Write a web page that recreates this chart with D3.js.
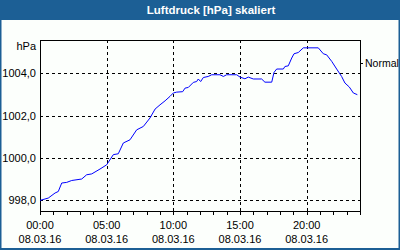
<!DOCTYPE html>
<html>
<head>
<meta charset="utf-8">
<script src="https://cdn.jsdelivr.net/npm/d3@7"></script>
<style>
  html, body { margin: 0; padding: 0; background: #fcfffc; }
  svg { display: block; }
  text { font-family: "Liberation Sans", Arial, sans-serif; }
</style>
</head>
<body>
<svg id="chart" width="400" height="250"></svg>
<script>
// Luftdruck über den Tag, Stunden seit 00:00
const hours = [0, 0.62, 1.13, 1.37, 1.63, 2.0, 2.38, 3.13, 3.5, 3.88, 4.5, 5.0, 5.5, 5.87, 6.25, 6.75,
  7.25, 7.75, 8.25, 8.63, 9.0, 9.38, 9.75, 10.0, 10.25, 10.7, 10.88, 11.12, 11.5, 11.75, 11.87, 12.05,
  12.25, 12.62, 12.88, 13.5, 13.75, 14.0, 14.75, 15.0, 15.37, 15.62, 16.0, 16.62, 16.87, 17.38, 17.55,
  17.75, 18.25, 18.37, 18.62, 18.88, 19.05, 19.37, 19.75, 20.87, 21.25, 21.5, 21.88, 22.25, 22.62,
  22.87, 23.2, 23.5, 23.8];
const hpa = [998.0, 998.11, 998.35, 998.42, 998.82, 998.85, 998.94, 999.01, 999.21, 999.25, 999.48,
  999.68, 1000.16, 1000.2, 1000.71, 1000.86, 1001.33, 1001.49, 1001.89, 1002.31, 1002.51, 1002.7,
  1002.91, 1003.07, 1003.11, 1003.13, 1003.3, 1003.33, 1003.57, 1003.61, 1003.73, 1003.61, 1003.8,
  1003.85, 1003.93, 1003.93, 1003.85, 1003.93, 1003.93, 1003.82, 1003.74, 1003.82, 1003.73, 1003.73,
  1003.58, 1003.58, 1004.04, 1004.2, 1004.2, 1004.32, 1004.35, 1004.72, 1004.92, 1004.98, 1005.2,
  1005.2, 1004.92, 1004.87, 1004.56, 1004.2, 1003.85, 1003.54, 1003.35, 1003.07, 1002.99];
const yTicks = [998, 1000, 1002, 1004];
const xTicks = [0, 5, 10, 15, 20];
const xLabels = ["00:00", "05:00", "10:00", "15:00", "20:00"];
const dateLabel = "08.03.16";
const normalValue = 1004.5;

const svg = d3.select("#chart");
const W = 400, H = 250;
const m = { l: 40, r: 360, t: 40, b: 211 };
const BLUE = "#1c5f95";

// Rahmen + Titelleiste
svg.append("rect").attr("x", 0.5).attr("y", 0.5).attr("width", W - 1).attr("height", H - 1.5)
  .attr("fill", "#fcfffc").attr("stroke", BLUE).attr("stroke-width", 2);
svg.append("rect").attr("x", 0).attr("y", 0).attr("width", W).attr("height", 20).attr("fill", BLUE);
svg.append("text").attr("x", 211).attr("y", 14).attr("text-anchor", "middle")
  .attr("font-size", 11.5).attr("font-weight", "bold").attr("fill", "#fff").text("Luftdruck [hPa] skaliert");

const x = d3.scaleLinear().domain([0, 24]).range([m.l, m.r]);
const y = d3.scaleLinear().domain([997.5, 1005.57]).range([m.b, m.t]);

// Gitter
const grid = svg.append("g").attr("stroke", "#000").attr("stroke-dasharray", "3,3").attr("shape-rendering", "crispEdges");
grid.selectAll(".h").data(yTicks).join("line")
  .attr("x1", m.l).attr("x2", m.r).attr("y1", (d) => Math.round(y(d)) + 0.5).attr("y2", (d) => Math.round(y(d)) + 0.5);
grid.selectAll(".v").data(xTicks.slice(1)).join("line")
  .attr("y1", m.t).attr("y2", m.b).attr("x1", (d) => Math.round(x(d)) + 0.5).attr("x2", (d) => Math.round(x(d)) + 0.5);

// Achsen
const xAxis = svg.append("g").attr("transform", `translate(0,${m.b + 0.5})`)
  .call(d3.axisBottom(x).ticks(24).tickSize(3).tickFormat(""));
xAxis.select(".domain").remove();
xAxis.selectAll("line").attr("shape-rendering", "crispEdges");

const lab = svg.append("g").attr("font-size", 11).attr("fill", "#000");
lab.selectAll(".t").data(xTicks).join("text").attr("x", (d) => x(d)).attr("y", 229).attr("text-anchor", "middle")
  .text((d, i) => xLabels[i]);
lab.selectAll(".d").data(xTicks).join("text").attr("x", (d) => x(d)).attr("y", 243).attr("text-anchor", "middle")
  .text(dateLabel);
lab.selectAll(".y").data(yTicks).join("text").attr("x", 36).attr("y", (d) => y(d) + 4).attr("text-anchor", "end")
  .text((d) => d.toFixed(1).replace(".", ","));
lab.append("text").attr("x", 36).attr("y", 50).attr("text-anchor", "end").text("hPa");

// rechte Achse mit "Normal"
svg.append("line").attr("x1", m.r).attr("x2", m.r + 3).attr("y1", Math.round(y(normalValue)) + 0.5)
  .attr("y2", Math.round(y(normalValue)) + 0.5).attr("stroke", "#000").attr("shape-rendering", "crispEdges");
lab.append("text").attr("x", 365).attr("y", y(normalValue) + 4).attr("font-size", 10.5).text("Normal");

// Plotrahmen
svg.append("rect").attr("x", m.l + 0.5).attr("y", m.t + 0.5).attr("width", m.r - m.l).attr("height", m.b - m.t)
  .attr("fill", "none").attr("stroke", "#000").attr("shape-rendering", "crispEdges");

// Kurve
const pts = hours.map((h, i) => [h, hpa[i]]);
svg.append("path").datum(pts).attr("fill", "none").attr("stroke", "#0000ff").attr("stroke-width", 1)
  .attr("d", d3.line().x((d) => x(d[0])).y((d) => y(d[1])));
</script>
</body>
</html>
